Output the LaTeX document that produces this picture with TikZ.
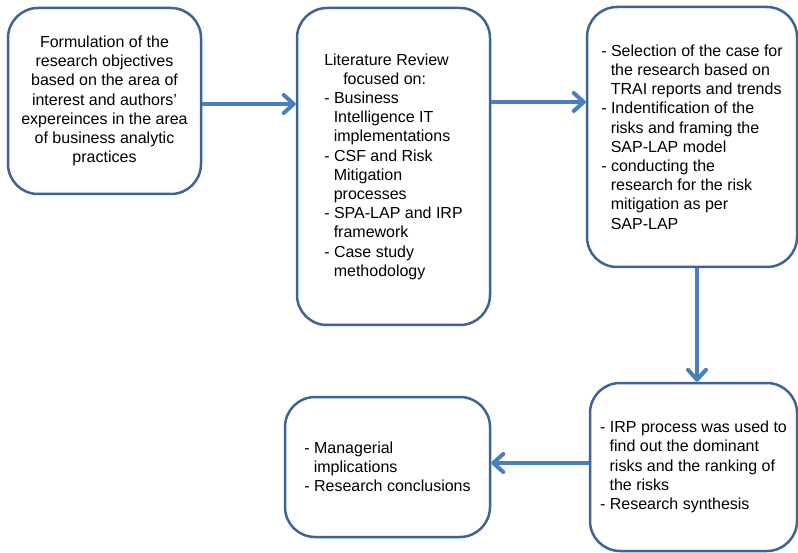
\documentclass[tikz,border=0pt]{standalone}
\usepackage{fontspec}
\setmainfont{Liberation Sans}
\usetikzlibrary{arrows.meta}
\definecolor{boxblue}{RGB}{62,100,150}
\definecolor{arrblue}{RGB}{74,126,190}
\newcommand{\hind}{\hspace*{9.5pt}}
\begin{document}
\begin{tikzpicture}[x=1pt,y=-1pt,
  box/.style={draw=boxblue, line width=2.5pt, rounded corners=30pt, fill=white,
    inner sep=0pt, align=left, font=\fontsize{16}{19.2}\selectfont},
  arr/.style={draw=arrblue, line width=4pt,
    -{Straight Barb[length=10pt,width=18pt,line cap=round,line join=round]}}]
\useasboundingbox (0,0) rectangle (798,553);
\clip (0,0) rectangle (798,553);
\node[box, align=center, minimum width=193pt, minimum height=186pt] (b1) at (104.5,101)
  {Formulation of the\\research objectives\\based on the area of\\interest and authors’\\expereinces in the area\\of business analytic\\practices};
\node[box, minimum width=193pt, minimum height=317pt] (b2) at (393.5,166.5)
  {Literature Review\\
   \hspace*{19pt}focused on:\\
   - Business\\
   \hind Intelligence IT\\
   \hind implementations\\
   - CSF and Risk\\
   \hind Mitigation\\
   \hind processes\\
   - SPA-LAP and IRP\\
   \hind framework\\
   - Case study\\
   \hind methodology};
\node[box, minimum width=210pt, minimum height=260pt] (b3) at (692,137)
  {- Selection of the case for\\
   \hind the research based on\\
   \hind TRAI reports and trends\\
   - Indentification of the\\
   \hind risks and framing the\\
   \hind SAP-LAP model\\
   - conducting the\\
   \hind research for the risk\\
   \hind mitigation as per\\
   \hind SAP-LAP};
\node[box, minimum width=207pt, minimum height=168pt] (b4) at (693.5,467)
  {- IRP process was used to\\
   \hind find out the dominant\\
   \hind risks and the ranking of\\
   \hind the risks\\
   - Research synthesis};
\node[box, minimum width=205pt, minimum height=140pt] (b5) at (387.5,467)
  {- Managerial\\
   \hind implications\\
   - Research conclusions};
\draw[arr] ([yshift=-3pt]b1.east) -- ([yshift=-3pt]b1.east -| b2.west);
\draw[arr] ([yshift=35pt]b3.west -| b2.east) -- ([yshift=35pt]b3.west);
\draw[arr] ([xshift=5pt]b3.south) -- ([xshift=5pt]b3.south |- b4.north);
\draw[arr] ([yshift=4pt]b4.west) -- ([yshift=4pt]b4.west -| b5.east);
\end{tikzpicture}
\end{document}
